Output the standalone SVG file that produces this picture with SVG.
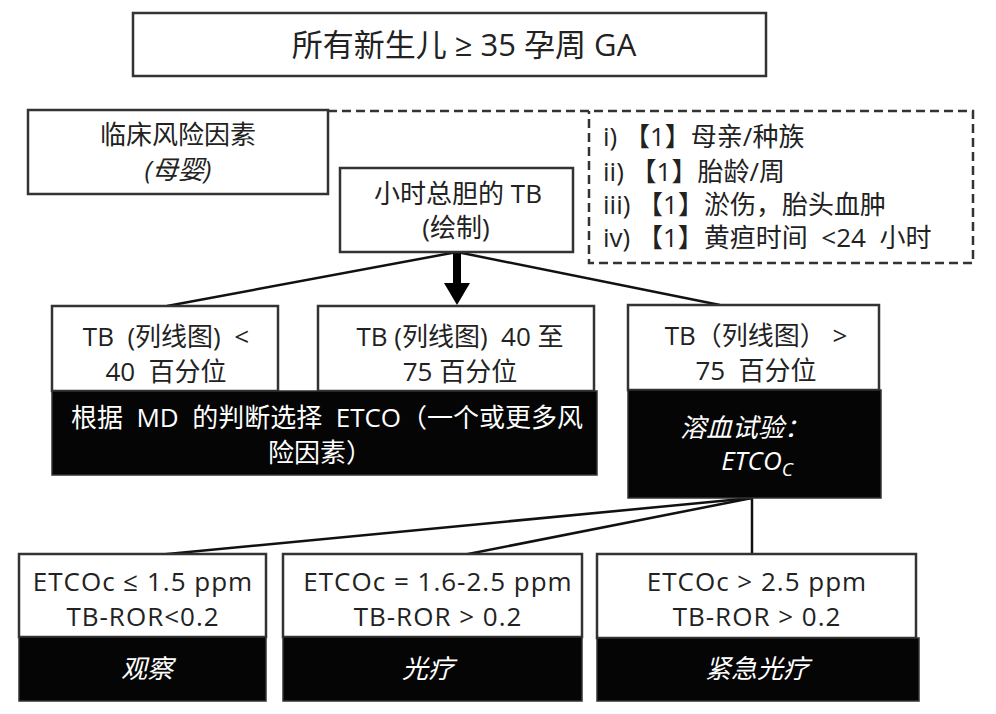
<svg xmlns="http://www.w3.org/2000/svg" width="996" height="714" viewBox="0 0 996 714">
<style>
text{font-family:"Open Sans","Noto Sans CJK SC",sans-serif;font-size:26px;fill:#222;text-anchor:middle;white-space:pre}
.box{fill:#fff;stroke:#333;stroke-width:2.5}
.blk{fill:#050505;stroke:#333;stroke-width:1.5}
.w{fill:#fff}
.it{font-style:italic}
.ls{letter-spacing:1px}
.dash{fill:none;stroke:#333;stroke-width:2.5;stroke-dasharray:9 5}
.ln{fill:none;stroke:#111;stroke-width:2.5}
.st{text-anchor:start}
</style>
<rect width="996" height="714" fill="#fff"/>
<g id="connectors">
<path class="dash" d="M328,111 H973 V263 H589 V111"/>
<line class="ln" x1="457" y1="252" x2="167" y2="306"/>
<line class="ln" x1="457" y1="252" x2="720" y2="305"/>
<line x1="457" y1="252" x2="457" y2="285" stroke="#000" stroke-width="8"/>
<polygon points="444,283 470,283 457,305" fill="#000"/>
<line class="ln" x1="752" y1="498" x2="157" y2="555"/>
<line class="ln" x1="752" y1="498" x2="463" y2="555"/>
<line class="ln" x1="752" y1="498" x2="752" y2="555"/>
</g>
<g id="title">
<rect class="box" x="133" y="13" width="633" height="63"/>
<text x="464" y="56" style="font-size:31px">所有新生儿 ≥ 35 孕周 GA</text>
</g>
<g id="risk">
<rect class="box" x="28" y="110" width="300" height="84"/>
<text x="178" y="144">临床风险因素</text>
<text x="178" y="179" class="it">(母婴)</text>
</g>
<g id="factors">
<text x="603" y="146" class="st">i) 【1】母亲/种族</text>
<text x="603" y="181" class="st">ii) 【1】胎龄/周</text>
<text x="603" y="214" class="st">iii) 【1】淤伤，胎头血肿</text>
<text x="603" y="247" class="st">iv) 【1】黄疸时间  &lt;24  小时</text>
</g>
<g id="tb">
<rect class="box" x="340" y="168" width="233" height="84"/>
<text x="458" y="203">小时总胆的 TB</text>
<text x="456" y="237">(绘制)</text>
</g>
<g id="low">
<rect class="box" x="52" y="306" width="226" height="85"/>
<text x="166" y="346">TB  (列线图)  &lt;</text>
<text x="166" y="381">40  百分位</text>
</g>
<g id="mid">
<rect class="box" x="318" y="306" width="276" height="85"/>
<text x="460" y="346">TB (列线图)  40 至</text>
<text x="460" y="381">75 百分位</text>
</g>
<g id="md">
<rect class="blk" x="52" y="391" width="545" height="84"/>
<text x="327" y="427" class="w">根据  MD  的判断选择  ETCO（一个或更多风</text>
<text x="320" y="462" class="w">险因素）</text>
</g>
<g id="high">
<rect class="box" x="628" y="305" width="251" height="85"/>
<text x="756" y="345">TB（列线图） &gt;</text>
<text x="756" y="380">75  百分位</text>
</g>
<g id="hemo">
<rect class="blk" x="628" y="390" width="253" height="108"/>
<text x="745" y="437" class="w it">溶血试验：</text>
<text x="757" y="470" class="w it">ETCO<tspan style="font-size:19px" dy="6">C</tspan></text>
</g>
<g id="obs">
<rect class="box" x="19" y="554" width="247" height="83"/>
<text x="143" y="591" class="ls">ETCOc ≤ 1.5 ppm</text>
<text x="143" y="626" class="ls">TB-ROR&lt;0.2</text>
<rect class="blk" x="19" y="637" width="247" height="64"/>
<text x="147" y="678" class="w it">观察</text>
</g>
<g id="photo">
<rect class="box" x="283" y="554" width="299" height="83"/>
<text x="438" y="591" class="ls">ETCOc = 1.6-2.5 ppm</text>
<text x="438" y="626" class="ls">TB-ROR &gt; 0.2</text>
<rect class="blk" x="283" y="637" width="299" height="64"/>
<text x="428" y="678" class="w it">光疗</text>
</g>
<g id="urgent">
<rect class="box" x="597" y="554" width="319" height="84"/>
<text x="757" y="591" class="ls">ETCOc &gt; 2.5 ppm</text>
<text x="757" y="626" class="ls">TB-ROR &gt; 0.2</text>
<rect class="blk" x="597" y="638" width="322" height="63"/>
<text x="757" y="678" class="w it">紧急光疗</text>
</g>
</svg>
